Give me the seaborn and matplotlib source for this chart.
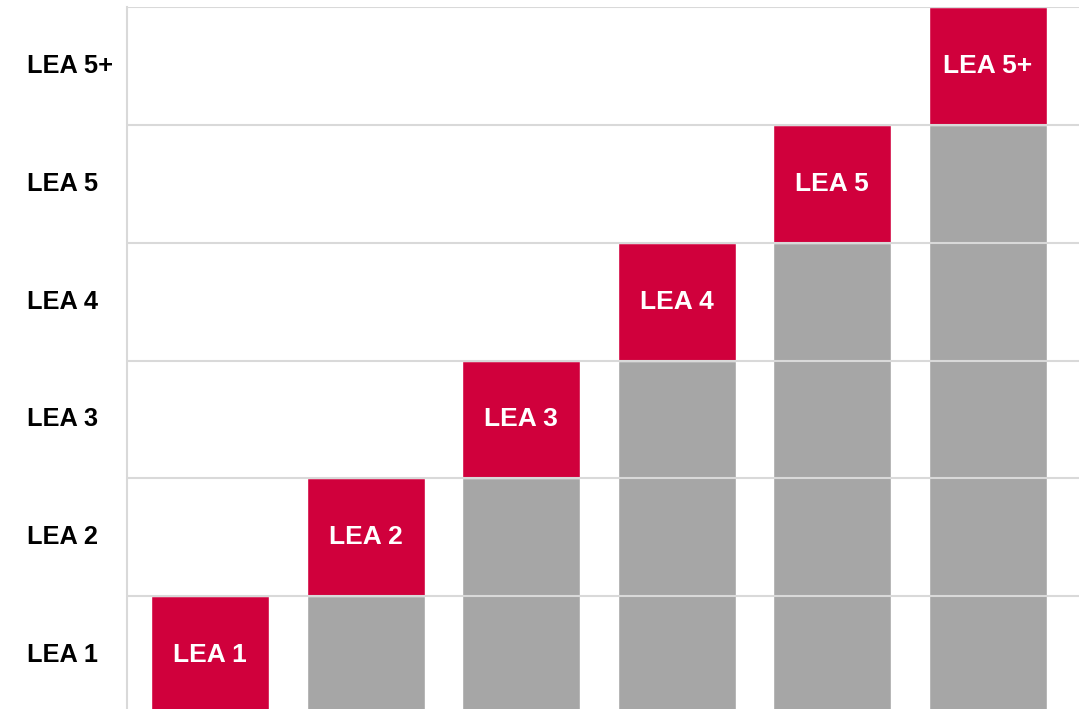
import numpy as np
import pandas as pd
import matplotlib
matplotlib.use("Agg")
import matplotlib.pyplot as plt
import seaborn as sns

# levels and their stacked heights
levels = ["LEA 1", "LEA 2", "LEA 3", "LEA 4", "LEA 5", "LEA 5+"]
base = [0, 1, 2, 3, 4, 5]      # grey part below each step
step = [1, 1, 1, 1, 1, 1]      # red step on top

red = "#d0003c"
grey = "#a6a6a6"
line = "#d9d9d9"

sns.set_style("white")
plt.rcParams["font.family"] = ["Liberation Sans", "DejaVu Sans"]

df = pd.DataFrame({"level": levels, "base": base, "step": step})
df["total"] = df["base"] + df["step"]

fig = plt.figure(figsize=(10.79, 7.09), dpi=100)
ax = fig.add_axes([127 / 1079, -5 / 709, 952 / 1079, 707 / 709])

# red full height, grey base drawn over it
sns.barplot(data=df, x="level", y="total", color=red, width=0.758,
            saturation=1, ax=ax, zorder=1)
sns.barplot(data=df, x="level", y="base", color=grey, width=0.758,
            saturation=1, ax=ax, zorder=2)

# labels inside the red steps
for i, row in df.iterrows():
    ax.text(i, row["base"] + row["step"] / 2, row["level"], color="white",
            fontsize=19, fontweight="bold", ha="center", va="center", zorder=4)

ax.set_xlim(-0.533, 5.585)
ax.set_ylim(0, 6)

# horizontal grid over the bars
for y in range(0, 7):
    ax.axhline(y, color=line, linewidth=1.5, zorder=3)

ax.set_yticks(np.arange(len(levels)) + 0.5)
ax.set_yticklabels(levels, fontsize=18.3, fontweight="bold", color="black",
                   va="center")
for lab in ax.get_yticklabels():
    lab.set_ha("left")
ax.tick_params(axis="y", length=0, pad=72)
ax.set_xticks([])
ax.set_xlabel("")
ax.set_ylabel("")

for s in ["top", "right", "bottom"]:
    ax.spines[s].set_visible(False)
ax.spines["left"].set_color(line)
ax.spines["left"].set_linewidth(1.5)

fig.savefig("out.png", dpi=100)
